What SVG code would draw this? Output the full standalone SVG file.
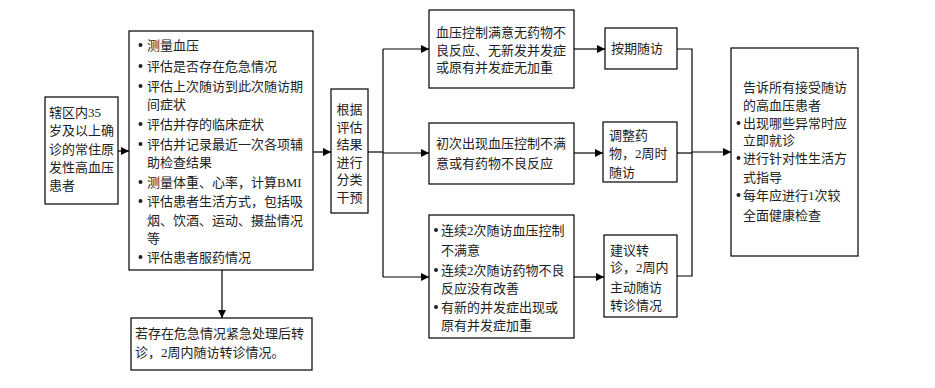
<svg xmlns="http://www.w3.org/2000/svg" width="935" height="388" viewBox="0 0 935 388">
<defs>
<marker id="a" viewBox="0 0 10 10" refX="10" refY="5" markerWidth="9" markerHeight="8" orient="auto" markerUnits="userSpaceOnUse"><path d="M0,0 L10,5 L0,10 z" fill="#000"/></marker>
<style>
.b{fill:#fff;stroke:#000;stroke-width:1.2}
text{font-family:"Liberation Serif","Noto Sans CJK SC",serif;font-size:13px;fill:#222}
.c{text-anchor:middle}
.l{fill:none;stroke:#000;stroke-width:1.2}
.ar{fill:none;stroke:#000;stroke-width:1.2;marker-end:url(#a)}
circle{fill:#222}
</style>
</defs>
<rect width="935" height="388" fill="#fff"/>
<g id="connectors">
<path class="ar" d="M118,151 H129"/>
<path class="ar" d="M313,152 H331"/>
<path class="ar" d="M222,270 V318"/>
<path class="l" d="M368,152 H383"/>
<path class="l" d="M383,49 V277"/>
<path class="ar" d="M383,49 H429"/>
<path class="ar" d="M383,153 H429"/>
<path class="ar" d="M383,277 H429"/>
<path class="ar" d="M574,49 H605"/>
<path class="ar" d="M574,153 H603"/>
<path class="ar" d="M574,277 H604"/>
<path class="l" d="M677,49 H692 V276 H677"/>
<path class="l" d="M677,153 H692"/>
<path class="ar" d="M692,152 H731"/>
</g>
<g id="n1">
<rect class="b" x="45" y="97" width="73" height="107"/>
<text x="49" y="117">辖区内35</text>
<text x="49" y="135">岁及以上确</text>
<text x="49" y="154">诊的常住原</text>
<text x="49" y="172">发性高血压</text>
<text x="49" y="190">患者</text>
</g>
<g id="n2">
<rect class="b" x="129" y="31" width="184" height="239"/>
<circle cx="140.5" cy="45" r="2"/><text x="147" y="49.5">测量血压</text>
<circle cx="140.5" cy="66" r="2"/><text x="147" y="70.5">评估是否存在危急情况</text>
<circle cx="140.5" cy="86" r="2"/><text x="147" y="90.5">评估上次随访到此次随访期</text>
<text x="147" y="109">间症状</text>
<circle cx="140.5" cy="124" r="2"/><text x="147" y="128.5">评估并存的临床症状</text>
<circle cx="140.5" cy="144" r="2"/><text x="147" y="148.5">评估并记录最近一次各项辅</text>
<text x="147" y="167">助检查结果</text>
<circle cx="140.5" cy="182" r="2"/><text x="147" y="186.5">测量体重、心率，计算BMI</text>
<circle cx="140.5" cy="201" r="2"/><text x="147" y="205.5">评估患者生活方式，包括吸</text>
<text x="147" y="224.5">烟、饮酒、运动、摄盐情况</text>
<text x="147" y="243">等</text>
<circle cx="140.5" cy="257" r="2"/><text x="147" y="261.5">评估患者服药情况</text>
</g>
<g id="n3">
<rect class="b" x="131" y="318" width="181" height="52"/>
<text x="135" y="338">若存在危急情况紧急处理后转</text>
<text x="135" y="357">诊，2周内随访转诊情况。</text>
</g>
<g id="n4">
<rect class="b" x="331" y="89" width="37" height="124"/>
<text class="c" x="349.5" y="113.5">根据</text>
<text class="c" x="349.5" y="131.5">评估</text>
<text class="c" x="349.5" y="148.5">结果</text>
<text class="c" x="349.5" y="166.5">进行</text>
<text class="c" x="349.5" y="183.5">分类</text>
<text class="c" x="349.5" y="201.5">干预</text>
</g>
<g id="n5">
<rect class="b" x="429" y="10" width="145" height="78"/>
<text x="436" y="36.5">血压控制满意无药物不</text>
<text x="436" y="54.5">良反应、无新发并发症</text>
<text x="436" y="71.5">或原有并发症无加重</text>
</g>
<g id="n6">
<rect class="b" x="429" y="123" width="145" height="61"/>
<text x="436" y="147.5">初次出现血压控制不满</text>
<text x="436" y="167.5">意或有药物不良反应</text>
</g>
<g id="n7">
<rect class="b" x="429" y="215" width="145" height="123"/>
<circle cx="436" cy="230" r="2"/><text x="441" y="234.5">连续2次随访血压控制</text>
<text x="441" y="254.5">不满意</text>
<circle cx="436" cy="270" r="2"/><text x="441" y="274.5">连续2次随访药物不良</text>
<text x="441" y="292.5">反应没有改善</text>
<circle cx="436" cy="307" r="2"/><text x="441" y="311.5">有新的并发症出现或</text>
<text x="441" y="329.5">原有并发症加重</text>
</g>
<g id="n8">
<rect class="b" x="605" y="28" width="72" height="41"/>
<text x="611" y="52.5">按期随访</text>
</g>
<g id="n9">
<rect class="b" x="603" y="122" width="74" height="60"/>
<text x="609" y="139.5">调整药</text>
<text x="609" y="157.5">物，2周时</text>
<text x="609" y="176.5">随访</text>
</g>
<g id="n10">
<rect class="b" x="604" y="235" width="73" height="82"/>
<text x="610" y="254.5">建议转</text>
<text x="610" y="271.5">诊，2周内</text>
<text x="610" y="291.5">主动随访</text>
<text x="610" y="309.5">转诊情况</text>
</g>
<g id="n11">
<rect class="b" x="731" y="48" width="127" height="208"/>
<text x="743" y="91.5">告诉所有接受随访</text>
<text x="743" y="109.5">的高血压患者</text>
<circle cx="738.5" cy="123" r="2"/><text x="743" y="127.5">出现哪些异常时应</text>
<text x="743" y="144.5">立即就诊</text>
<circle cx="738.5" cy="158" r="2"/><text x="743" y="162.5">进行针对性生活方</text>
<text x="743" y="181.5">式指导</text>
<circle cx="738.5" cy="195" r="2"/><text x="743" y="199.5">每年应进行1次较</text>
<text x="743" y="219.5">全面健康检查</text>
</g>
</svg>
